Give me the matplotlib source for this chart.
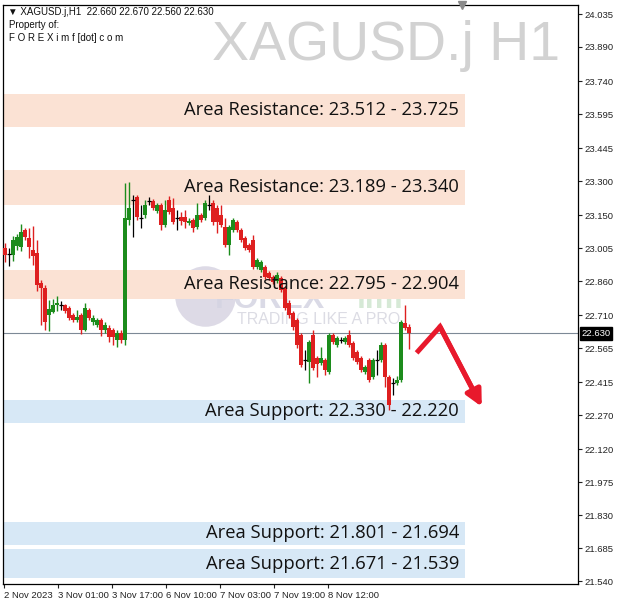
import numpy as np
import matplotlib.pyplot as plt
import matplotlib.transforms as mtransforms

# XAGUSD.j H1 candles (oldest first)
opens = [23.005, 22.978, 22.975, 23.014, 23.010, 23.085, 23.049, 22.997, 22.983, 22.851,
         22.829, 22.711, 22.724, 22.755, 22.755, 22.755, 22.741, 22.711, 22.689, 22.711,
         22.645, 22.733, 22.680, 22.667, 22.689, 22.645, 22.653, 22.645, 22.601, 22.631,
         22.601, 23.129, 23.217, 23.230, 23.137, 23.151, 23.212, 23.212, 23.168, 23.195,
         23.107, 23.217, 23.181, 23.137, 23.142, 23.142, 23.115, 23.129, 23.098, 23.151,
         23.137, 23.195, 23.203, 23.181, 23.151, 23.098, 23.019, 23.085, 23.120, 23.085,
         23.049, 23.019, 23.041, 22.922, 22.909, 22.922, 22.895, 22.878, 22.860, 22.873,
         22.829, 22.763, 22.719, 22.689, 22.623, 22.513, 22.504, 22.623, 22.521, 22.499,
         22.513, 22.460, 22.623, 22.579, 22.601, 22.592, 22.623, 22.587, 22.548, 22.521,
         22.460, 22.513, 22.438, 22.513, 22.513, 22.579, 22.438, 22.411, 22.411, 22.425,
         22.675, 22.660]
highs = [23.027, 23.005, 23.058, 23.067, 23.111, 23.093, 23.093, 23.102, 23.041, 22.865,
         22.843, 22.777, 22.781, 22.794, 22.772, 22.759, 22.750, 22.719, 22.733, 22.719,
         22.763, 22.741, 22.711, 22.697, 22.697, 22.680, 22.667, 22.653, 22.645, 22.645,
         23.291, 23.296, 23.239, 23.239, 23.195, 23.217, 23.230, 23.221, 23.203, 23.203,
         23.217, 23.234, 23.225, 23.173, 23.164, 23.173, 23.137, 23.137, 23.203, 23.159,
         23.217, 23.239, 23.217, 23.195, 23.195, 23.137, 23.107, 23.137, 23.129, 23.093,
         23.058, 23.027, 23.063, 22.961, 22.953, 22.931, 22.904, 22.887, 22.900, 22.882,
         22.838, 22.777, 22.728, 22.697, 22.631, 22.557, 22.601, 22.645, 22.530, 22.570,
         22.521, 22.631, 22.631, 22.618, 22.614, 22.618, 22.645, 22.596, 22.557, 22.530,
         22.491, 22.521, 22.521, 22.557, 22.592, 22.587, 22.447, 22.433, 22.442, 22.689,
         22.755, 22.670]
lows = [22.944, 22.926, 22.948, 22.997, 22.992, 23.041, 22.961, 22.931, 22.816, 22.667,
        22.645, 22.640, 22.719, 22.728, 22.733, 22.719, 22.689, 22.680, 22.680, 22.627,
        22.640, 22.689, 22.667, 22.658, 22.618, 22.631, 22.592, 22.579, 22.570, 22.587,
        22.579, 23.107, 23.054, 23.129, 23.093, 23.137, 23.195, 23.173, 23.159, 23.085,
        23.098, 23.155, 23.111, 23.085, 23.107, 23.093, 23.107, 23.076, 23.089, 23.120,
        23.129, 23.173, 23.107, 23.071, 23.098, 23.010, 22.975, 23.076, 23.076, 23.032,
        22.997, 22.988, 22.913, 22.913, 22.900, 22.869, 22.865, 22.847, 22.851, 22.812,
        22.733, 22.697, 22.645, 22.565, 22.482, 22.469, 22.411, 22.469, 22.438, 22.491,
        22.447, 22.451, 22.583, 22.570, 22.587, 22.583, 22.570, 22.513, 22.495, 22.460,
        22.451, 22.416, 22.429, 22.447, 22.504, 22.394, 22.293, 22.359, 22.403, 22.416,
        22.645, 22.560]
closes = [22.975, 22.978, 23.041, 23.054, 23.076, 23.054, 23.010, 22.970, 22.843, 22.829,
          22.680, 22.737, 22.755, 22.763, 22.755, 22.728, 22.697, 22.689, 22.702, 22.645,
          22.741, 22.697, 22.697, 22.689, 22.645, 22.667, 22.614, 22.614, 22.631, 22.601,
          23.137, 23.181, 23.217, 23.142, 23.137, 23.195, 23.212, 23.181, 23.195, 23.107,
          23.173, 23.164, 23.120, 23.137, 23.124, 23.120, 23.124, 23.093, 23.151, 23.129,
          23.203, 23.195, 23.120, 23.120, 23.107, 23.019, 23.098, 23.129, 23.085, 23.041,
          23.005, 22.997, 22.922, 22.953, 22.944, 22.878, 22.873, 22.856, 22.887, 22.821,
          22.741, 22.711, 22.658, 22.579, 22.491, 22.513, 22.592, 22.477, 22.495, 22.521,
          22.469, 22.623, 22.592, 22.609, 22.601, 22.609, 22.579, 22.521, 22.504, 22.469,
          22.482, 22.425, 22.513, 22.513, 22.579, 22.438, 22.315, 22.411, 22.425, 22.680,
          22.653, 22.630]

x_ticks = [-0.25, 13.25, 26.75, 40.25, 53.75, 67.25, 80.75]
x_labels = ['2 Nov 2023', '3 Nov 01:00', '3 Nov 17:00', '6 Nov 10:00',
            '7 Nov 03:00', '7 Nov 19:00', '8 Nov 12:00']
y_ticks = [24.035, 23.890, 23.740, 23.595, 23.445, 23.300, 23.150, 23.005, 22.860,
           22.710, 22.565, 22.415, 22.270, 22.120, 21.975, 21.830, 21.685, 21.540]

res_zones = [(23.538, 23.683), (23.195, 23.349), (22.781, 22.909)]
res_labels = ['Area Resistance: 23.512 - 23.725',
              'Area Resistance: 23.189 - 23.340',
              'Area Resistance: 22.795 - 22.904']
sup_zones = [(22.235, 22.337), (21.697, 21.802), (21.552, 21.680)]
sup_labels = ['Area Support: 22.330 - 22.220',
              'Area Support: 21.801 - 21.694',
              'Area Support: 21.671 - 21.539']

last_price = 22.630
arrow_x = [102.9, 108.75, 119.2]
arrow_y = [22.544, 22.659, 22.307]

GREEN = '#1c8c1c'
RED = '#de1f1f'
RES_COLOR = '#fbe2d4'
SUP_COLOR = '#d7e8f6'
SMALL_FONT = 'Liberation Sans'


def main():
    fig = plt.figure(figsize=(6.2, 6.06), dpi=100)
    ax = fig.add_axes([3 / 620, 1 - 584 / 606, 575 / 620, 579 / 606])
    ax.set_xlim(-0.5, 143.25)
    ax.set_ylim(21.527, 24.0746)

    # zones
    zone_x = [-0.5, 115]
    for (lo, hi), lab in zip(res_zones, res_labels):
        ax.fill_between(zone_x, lo, hi, color=RES_COLOR, lw=0, zorder=1)
        ax.text(113.5, (lo + hi) / 2, lab, ha='right', va='center', fontsize=13.2,
                family='Open Sans', color='#111111', zorder=6)
    for (lo, hi), lab in zip(sup_zones, sup_labels):
        ax.fill_between(zone_x, lo, hi, color=SUP_COLOR, lw=0, zorder=1)
        ax.text(113.5, (lo + hi) / 2, lab, ha='right', va='center', fontsize=13.2,
                family='Open Sans', color='#111111', zorder=6)

    # watermarks
    ax.text(0.9687, 0.905, 'XAGUSD.j H1', transform=ax.transAxes, ha='right',
            va='baseline', fontsize=40, family='Liberation Sans', color='#d2d2d2', zorder=0)
    ax.scatter([50], [22.795], s=1900, color='#cfcbdc', alpha=0.7, lw=0, zorder=0.5)
    ax.text(52.5, 22.775, 'FOREX', fontsize=23, fontweight='bold', family='Liberation Sans',
            color='#d4d4e2', alpha=0.85, va='center', zorder=0.6)
    ax.text(88, 22.775, 'imf', fontsize=23, fontweight='bold', family='Liberation Sans',
            color='#cfe6cf', alpha=0.85, va='center', zorder=0.6)
    ax.text(58, 22.690, 'TRADING LIKE A PRO', fontsize=11.5, family='Liberation Sans',
            color='#dcdce4', va='center', zorder=0.6)

    # current price line
    ax.axhline(last_price, color='#7d8996', lw=0.8, zorder=2)

    # candles
    idx = np.arange(len(opens))
    o = np.array(opens)
    h = np.array(highs)
    l = np.array(lows)
    c = np.array(closes)
    up = c > o
    dn = c < o
    fl = c == o
    ax.vlines(idx[up], l[up], h[up], color=GREEN, lw=1, zorder=3)
    ax.vlines(idx[dn], l[dn], h[dn], color=RED, lw=1, zorder=3)
    ax.vlines(idx[fl], l[fl], h[fl], color='black', lw=0.9, zorder=3)
    ax.bar(idx[up], c[up] - o[up], bottom=o[up], width=0.78, color=GREEN, lw=0, zorder=4)
    ax.bar(idx[dn], c[dn] - o[dn], bottom=o[dn], width=0.78, color=RED, lw=0, zorder=4)
    ax.hlines(o[fl], idx[fl] - 0.4, idx[fl] + 0.4, color='black', lw=0.9, zorder=4)

    # red arrow
    ax.plot(arrow_x[:2] + [arrow_x[1] + (arrow_x[2] - arrow_x[1]) * 0.8],
            arrow_y[:2] + [arrow_y[1] + (arrow_y[2] - arrow_y[1]) * 0.8],
            color='#e8192c', lw=3.6, solid_joinstyle='miter', solid_capstyle='butt', zorder=7)
    ax.annotate('', xy=(arrow_x[2], arrow_y[2]), xytext=(arrow_x[1], arrow_y[1]),
                arrowprops=dict(arrowstyle='-|>', color='#e8192c', lw=3.6,
                                mutation_scale=24, shrinkA=0, shrinkB=0), zorder=7)

    # shift marker
    ax.plot([114.25], [24.0746], marker='v', color='#8a8a8a', ms=6, clip_on=False, zorder=8)

    # axes
    ax.yaxis.tick_right()
    ax.set_yticks(y_ticks)
    ax.set_yticklabels(['%.3f' % v for v in y_ticks], family=SMALL_FONT)
    ax.set_xticks(x_ticks)
    ax.set_xticklabels(x_labels, family=SMALL_FONT)
    for lab in ax.get_xticklabels():
        lab.set_ha('left')
    ax.tick_params(axis='both', direction='out', length=3, width=0.8, labelsize=6.8,
                   colors='#222222', pad=2)
    for sp in ax.spines.values():
        sp.set_color('black')
        sp.set_linewidth(0.9)

    trans = mtransforms.blended_transform_factory(ax.transAxes, ax.transData)
    ax.text(1.006, last_price, '22.630', transform=trans, ha='left', va='center',
            fontsize=6.8, family=SMALL_FONT, color='white', zorder=9,
            bbox=dict(boxstyle='square,pad=0.2', fc='black', ec='black'))

    # header
    fig.text(8 / 620, 1 - 12 / 606, '\u25bc XAGUSD.j,H1  22.660 22.670 22.560 22.630',
             fontsize=7, family=['Liberation Sans', 'DejaVu Sans'], va='center',
             color='#111111')
    fig.text(9 / 620, 1 - 25 / 606, 'Property of:', fontsize=7, family=SMALL_FONT,
             va='center', color='#111111')
    fig.text(9 / 620, 1 - 38 / 606, 'F O R E X i m f [dot] c o m', fontsize=7,
             family=SMALL_FONT, va='center', color='#111111')

    fig.savefig('out.png', dpi=100, facecolor='white')


if __name__ == '__main__':
    main()
